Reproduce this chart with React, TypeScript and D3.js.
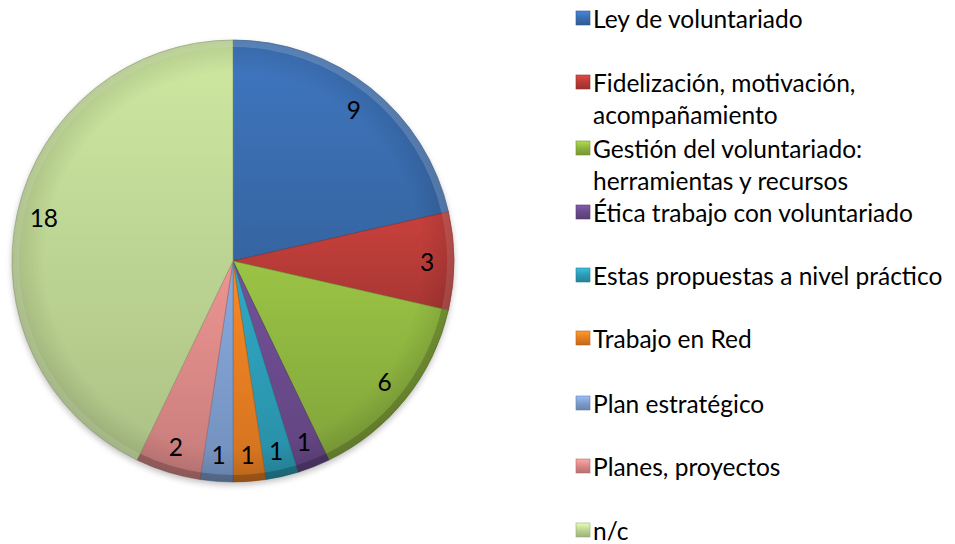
import React from "react";
import * as d3 from "d3";

const categories = [
  "Ley de voluntariado",
  "Fidelización, motivación, acompañamiento",
  "Gestión del voluntariado: herramientas y recursos",
  "Ética trabajo con voluntariado",
  "Estas propuestas a nivel práctico",
  "Trabajo en Red",
  "Plan estratégico",
  "Planes, proyectos",
  "n/c",
];
const legendLines = [
  ["Ley de voluntariado"],
  ["Fidelización, motivación,", "acompañamiento"],
  ["Gestión del voluntariado:", "herramientas y recursos"],
  ["Ética trabajo con voluntariado"],
  ["Estas propuestas a nivel práctico"],
  ["Trabajo en Red"],
  ["Plan estratégico"],
  ["Planes, proyectos"],
  ["n/c"],
];
const values = [9, 3, 6, 1, 1, 1, 1, 2, 18];
const colors = ["#3a6db0", "#b83b38", "#8db33f", "#6a4a8c", "#2d9bb5", "#e57d22", "#7d9ccc", "#d98886", "#bcd493"];

export default function App() {
  const W = 955, H = 544;
  const cx = 233, cy = 261, R = 221;
  const pie = d3.pie<number>().value((d) => d).sort(null);
  const arcs = pie(values);
  const arc = d3.arc<d3.PieArcDatum<number>>().innerRadius(0).outerRadius(R);
  const rim = d3.arc<d3.PieArcDatum<number>>().innerRadius(R - 7).outerRadius(R);
  const labelArc = d3.arc<d3.PieArcDatum<number>>().innerRadius(194).outerRadius(194);
  const font = "Lato, 'Open Sans', sans-serif";
  const fs = 24.5;
  const legendY = [18, 82, 148, 212, 275, 338, 403, 466, 530];
  return (
    <svg width={W} height={H} style={{ display: "block", position: "absolute", left: 0, top: 0 }}>
      <defs>
        {colors.map((c, i) => {
          const b = d3.color(c)!;
          return (
            <linearGradient key={i} id={`g${i}`} x1="0" y1="0" x2="0" y2="1">
              <stop offset="0" stopColor={d3.color(c)!.brighter(0.25).formatHex()} />
              <stop offset="1" stopColor={b.darker(0.25).formatHex()} />
            </linearGradient>
          );
        })}
        {colors.map((c, i) => (
          <linearGradient key={`m${i}`} id={`m${i}`} x1="0" y1="0" x2="0" y2="1">
            <stop offset="0" stopColor={d3.color(c)!.brighter(0.6).formatHex()} />
            <stop offset="0.5" stopColor={c} />
            <stop offset="1" stopColor={d3.color(c)!.darker(0.5).formatHex()} />
          </linearGradient>
        ))}
        <radialGradient id="shade" cx="0.5" cy="0.5" r="0.5">
          <stop offset="0.85" stopColor="#000" stopOpacity="0" />
          <stop offset="1" stopColor="#000" stopOpacity="0.12" />
        </radialGradient>
        <filter id="sh" x="-10%" y="-10%" width="120%" height="120%">
          <feGaussianBlur stdDeviation="3" />
        </filter>
      </defs>
      <rect width={W} height={H} fill="#fff" />
      <circle cx={cx} cy={cy + 3} r={R} fill="#000" opacity={0.25} filter="url(#sh)" />
      <g transform={`translate(${cx},${cy})`}>
        {arcs.map((a, i) => (
          <g key={i}>
            <path d={arc(a)!} fill={`url(#g${i})`} stroke={d3.color(colors[i])!.darker(0.8).formatHex()} strokeWidth={1} strokeOpacity={0.6} />
          </g>
        ))}
        {arcs.map((a, i) => {
          const mid = (a.startAngle + a.endAngle) / 2;
          const light = Math.cos(mid) > 0;
          return (
            <path key={`r${i}`} d={rim(a)!} fill={light ? "#fff" : "#000"} opacity={0.12 + 0.08 * Math.abs(Math.cos(mid))} />
          );
        })}
        <circle r={R} fill="url(#shade)" />
        {arcs.map((a, i) => {
          const [x, y] = labelArc.centroid(a);
          return (
            <text key={`t${i}`} x={x} y={y} textAnchor="middle" dominantBaseline="central" fontFamily={font} fontSize={fs} fill="#000">
              {values[i]}
            </text>
          );
        })}
      </g>
      <g>
        {legendLines.map((lines, i) => (
          <g key={i}>
            <rect x={576} y={legendY[i] - 7} width={14} height={14} fill={`url(#m${i})`} stroke={d3.color(colors[i])!.darker(0.6).formatHex()} strokeWidth={0.6} />
            {lines.map((l, j) => (
              <text key={j} x={593} y={legendY[i] + j * 32} dominantBaseline="central" fontFamily={font} fontSize={fs} fill="#000">
                {l}
              </text>
            ))}
          </g>
        ))}
      </g>
      <title>{categories.join(", ")}</title>
    </svg>
  );
}
